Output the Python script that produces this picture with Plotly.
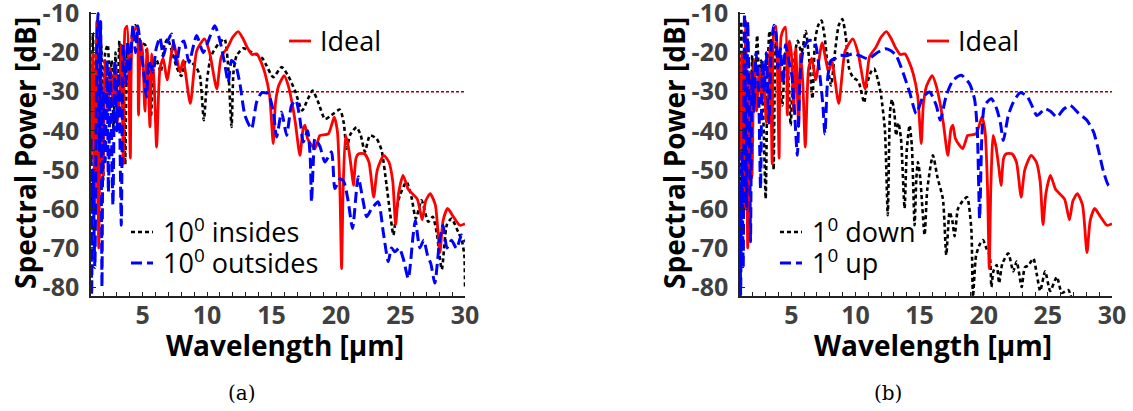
import plotly.graph_objects as go

W, H = 1133, 411

# ---------------- data (wavelength in µm, spectral power in dB) ----------------
ideal_wl = [1.0, 1.15, 1.3, 1.45, 1.6, 1.75, 1.93, 2.1, 2.3, 2.5, 2.7, 2.85, 3.05, 3.22, 3.35,
            3.51, 3.65, 3.8, 3.95, 4.05, 4.2, 4.4, 4.55, 4.68, 4.85, 5.0, 5.18, 5.35, 5.57, 5.72,
            5.9, 6.09, 6.35, 6.6, 6.9, 7.4, 7.9, 8.15, 8.7, 9.2, 9.8, 10.2, 10.75, 11.1, 11.6,
            12.0, 12.42, 12.8, 13.1, 13.5, 13.85, 14.2, 14.5, 14.85, 15.13, 15.3, 15.55, 15.98,
            16.3, 16.6, 16.85, 17.2, 17.45, 17.6, 17.79, 18.1, 18.36, 18.6, 18.75, 19.4, 19.86,
            20.1, 20.3, 20.43, 20.55, 20.74, 20.95, 21.2, 21.35, 21.55, 21.75, 22.2, 22.55, 22.92,
            23.2, 23.7, 24.1, 24.4, 24.62, 24.85, 25.2, 25.6, 26.3, 26.68, 26.95, 27.3, 27.7,
            28.05, 28.3, 28.65, 29.1, 29.6, 30.0]
ideal_db = [-47.6, -20, -60, -12, -70, -25, -52, -22, -35, -24, -33, -23, -38, -31, -18,
            -48.5, -14, -13.2, -30, -47, -16, -14, -13.5, -36, -17, -20, -35, -19, -39, -20.3,
            -28, -44.2, -24, -21.5, -27, -17.5, -25, -22, -33, -19.5, -16.5, -20, -29.3, -21, -18.6,
            -16, -14.6, -16.5, -18.6, -20.5, -20.3, -22.5, -25.4, -31, -43.3, -33, -28.5, -25.9,
            -28.5, -33, -38, -46.3, -39.5, -38.6, -42, -43.7, -44.6, -42.5, -41.2, -40.8, -36.5,
            -40, -55, -75.3, -55, -41.2, -44, -50, -54, -47, -45.9, -45.9, -48, -57,
            -50, -46.3, -48, -53, -64, -56, -51.4, -55, -57.5, -62.8, -58, -56.1, -59,
            -71.2, -63, -59.9, -62, -64.2, -63.8]

inside_wl = [1.0, 1.15, 1.3, 1.45, 1.6, 1.8, 1.95, 2.1, 2.3, 2.45, 2.6, 2.75, 2.9, 3.05, 3.2,
             3.35, 3.5, 3.65, 3.8, 4.0, 4.2, 4.45, 4.6, 4.9, 5.2, 5.45, 5.65, 5.85, 6.1, 6.4,
             6.7, 6.95, 7.3, 7.64, 8.0, 8.4, 8.8, 9.2, 9.45, 9.75, 10.0, 10.3, 10.87, 11.35, 11.6,
             11.9, 12.05, 12.3, 12.81, 13.45, 13.97, 14.3, 14.61, 15.13, 15.78, 16.3, 16.81,
             17.38, 17.8, 18.18, 18.62, 19.14, 19.65, 20.3, 20.6, 20.82, 21.1, 21.59, 21.9, 22.24,
             22.63, 23.14, 23.53, 23.92, 24.15, 24.45, 24.7, 24.95, 25.47, 25.85, 26.19, 26.63,
             27.15, 27.5, 27.8, 28.2, 28.6, 28.96, 29.47, 29.75, 29.95, 30.0]
inside_db = [-58, -15, -45, -22, -50, -18, -52.6, -20, -18, -30, -22, -40, -20, -35, -17,
             -28, -22, -48.6, -20, -30, -15, -13, -15, -17.5, -18, -24, -36.5, -24, -22, -25,
             -18, -16.5, -20, -23.7, -26, -21.6, -22.5, -24, -26, -37.3, -27, -21, -17.8, -16.5, -22,
             -39, -25, -20.7, -18.9, -19.9, -20.7, -21.5, -23.3, -26.3, -23.7, -26, -29.7,
             -34.8, -32, -29.7, -32.7, -37, -36, -34.6, -38, -44.6, -41, -39.1, -41, -45.4,
             -41.2, -42, -45, -54, -60, -66.7, -60, -56.5, -53.1, -57, -62.5, -57.8,
             -63.3, -62, -66, -75.5, -64, -62.5, -65.9, -68, -72, -80]

outside_wl = [1.0, 1.05, 1.15, 1.3, 1.45, 1.55, 1.65, 1.75, 1.85, 1.95, 2.1, 2.25, 2.35, 2.5,
              2.7, 2.85, 3.0, 3.15, 3.35, 3.5, 3.7, 3.85, 4.0, 4.25, 4.45, 4.64, 4.85, 5.05, 5.3,
              5.5, 5.8, 6.05, 6.35, 6.6, 6.86, 7.25, 7.64, 7.9, 8.2, 8.6, 9.19, 9.7, 10.1, 10.6,
              11.0, 11.39, 11.64, 11.9, 12.2, 12.55, 12.94, 13.45, 13.84, 14.23, 14.74, 15.13,
              15.39, 15.78, 16.17, 16.55, 16.89, 17.2, 17.46, 17.8, 18.0, 18.1, 18.25, 18.36,
              18.75, 19.14, 19.65, 19.91, 20.3, 20.6, 20.94, 21.28, 21.72, 22.1, 22.37, 22.75,
              23.27, 23.66, 24.05, 24.3, 24.56, 24.9, 25.21, 25.6, 25.98, 26.15, 26.5, 26.8,
              27.1, 27.35, 27.66, 28.05, 28.3, 28.6, 28.95, 29.34, 29.73, 30.0]
outside_db = [-42, -82, -50, -75, -20, -10, -45, -12, -80, -30, -48, -22, -55.7, -25,
              -59, -22, -40, -25, -64.2, -18, -28, -17, -25, -13.1, -20, -13.1, -19, -24, -31.4,
              -22, -25, -19, -16.1, -21, -17.8, -15.2, -23, -18, -17, -22.5, -15.6, -20, -17, -13.1,
              -17, -23.3, -27.6, -22, -23, -28, -36.1, -39.5, -32.7, -30.3, -30.5, -35,
              -41.6, -35.2, -41.2, -33.5, -32.2, -37, -42.9, -40, -47, -58.2, -47, -42,
              -44, -48, -45.4, -54.8, -52.3, -53, -58, -65, -51.8, -58, -62, -60,
              -58.2, -65.9, -73.5, -70, -71, -70, -72.7, -77.8, -66.7, -63, -70, -68,
              -72, -74, -79, -67.6, -64.2, -70, -68, -70.1, -66.7, -68.5]

down_wl = [1.0, 1.1, 1.2, 1.35, 1.5, 1.65, 1.8, 1.95, 2.1, 2.34, 2.5, 2.65, 2.85, 3.0, 3.15,
           3.3, 3.5, 3.62, 3.78, 4.0, 4.3, 4.55, 4.75, 4.95, 5.2, 5.5, 5.8, 6.12, 6.4, 6.65,
           6.85, 7.1, 7.35, 7.6, 7.85, 8.1, 8.4, 8.7, 8.98, 9.25, 9.5, 9.8, 10.1, 10.3, 10.68,
           10.9, 11.2, 11.45, 11.75, 12.0, 12.3, 12.52, 12.7, 12.85, 13.05, 13.17, 13.35, 13.55,
           13.83, 14.0, 14.22, 14.4, 14.61, 14.75, 14.87, 15.05, 15.39, 15.6, 16.04, 16.4,
           16.82, 17.08, 17.34, 17.55, 17.73, 17.99, 18.35, 18.7, 19.03, 19.16, 19.4, 19.7,
           19.95, 20.2, 20.47, 20.6, 20.75, 21.01, 21.2, 21.45, 21.92, 22.3, 22.57, 22.96,
           23.2, 23.48, 23.87, 24.15, 24.4, 24.79, 25.18, 25.7, 26.09, 26.6, 26.85]
down_db = [-60, -12, -40, -20, -55, -25, -45, -20.7, -30, -15.6, -28, -22, -40, -57.4, -25,
           -14.5, -20, -50, -17.3, -25, -33.5, -20, -25, -38.6, -22, -17, -20, -14.5, -22, -31.8,
           -17, -13, -11.8, -16, -24, -28.4, -20, -13, -11.4, -16, -24, -26.3, -27, -28, -32.8,
           -28, -25, -24.1, -27, -31, -40, -61.6, -35, -32, -36, -41.2, -38, -42,
           -59.9, -45, -38.6, -44, -64.2, -52, -48, -52, -66.7, -55, -46.3, -52,
           -57.5, -71.8, -60.8, -63, -67, -60, -58, -57, -65, -82.5, -72, -69,
           -68, -70, -72, -80, -76, -74.4, -79, -74, -71.4, -76, -73.5, -80,
           -75, -74.5, -72.7, -77, -81, -76, -81, -77.4, -81.5, -80.8, -83]

up_wl = [1.0, 1.05, 1.15, 1.25, 1.35, 1.5, 1.6, 1.75, 1.82, 1.95, 2.1, 2.25, 2.45, 2.6, 2.75,
         2.9, 3.05, 3.25, 3.45, 3.64, 3.8, 3.95, 4.15, 4.35, 4.55, 4.8, 5.05, 5.25, 5.47, 5.7,
         5.95, 6.3, 6.64, 6.9, 7.2, 7.45, 7.62, 7.85, 8.1, 8.46, 8.8, 9.29, 9.81, 10.34, 10.99,
         11.74, 12.39, 12.8, 13.17, 13.7, 14.22, 14.74, 15.26, 15.78, 16.3, 16.61, 17.08,
         17.6, 18.25, 18.9, 19.29, 19.5, 19.68, 19.85, 20.07, 20.6, 21.01, 21.3, 21.53, 21.92,
         22.31, 22.83, 23.35, 23.75, 24.14, 24.79, 25.2, 25.7, 26.22, 26.74, 27.39, 28.04,
         28.56, 28.95, 29.34, 29.73, 30.0]
up_db = [-55, -82, -45, -75, -10, -60, -12, -40, -68.4, -25, -35, -20, -30, -54.8, -22,
         -30, -20, -38, -18, -13, -15, -24, -19, -28, -18, -22, -26, -35, -46.3, -25,
         -19, -17, -16.9, -18, -25, -33, -40.8, -26, -22, -21.4, -20.7, -20.8, -20.3, -20.8, -21.6,
         -19.9, -19.0, -19.6, -20.7, -25, -30.1, -35.6, -31.4, -30.1, -33.5, -37.3, -31,
         -27.1, -25.8, -28, -32, -40, -62.5, -42, -33.5, -31.8, -34.4, -38, -42.5, -36,
         -32.7, -30.3, -31, -33.5, -36.1, -34.4, -35, -36.5, -34.5, -33.5, -35.5, -37.3,
         -40.3, -45, -50.5, -54, -54.4]

threshold_wl = [1, 30]
threshold_db = [-30, -30]

x_ticks = [5, 10, 15, 20, 25, 30]
y_ticks = [-80, -70, -60, -50, -40, -30, -20, -10]
y_tick_text = ["-80", "-70", "-60", "-50", "-40", "-30", "-20", "-10"]

# ---------------- styling ----------------
FONT = "Open Sans"
RED, BLACK, BLUE, MAROON = "#ff0000", "#000000", "#0000ff", "#a00000"
STYLE = {
    "black": dict(color=BLACK, width=2.6, dash="4px,3px"),
    "red": dict(color=RED, width=2.8),
    "blue": dict(color=BLUE, width=3, dash="11px,5px"),
}


def px_x(p):
    return p / W


def px_y(p):
    return 1 - p / H


fig = go.Figure()


def add_curve(wl, db, style, xa, ya):
    fig.add_trace(go.Scatter(x=wl, y=db, mode="lines", xaxis=xa, yaxis=ya,
                             line=dict(shape="spline", smoothing=0.6, **STYLE[style]),
                             showlegend=False, hoverinfo="skip"))


def add_threshold(xa, ya):
    fig.add_trace(go.Scatter(x=threshold_wl, y=threshold_db, mode="lines", xaxis=xa, yaxis=ya,
                             line=dict(color=MAROON, width=1.6, dash="3px,2px"),
                             showlegend=False, hoverinfo="skip"))


# panel (a)
add_threshold("x", "y")
add_curve(inside_wl, inside_db, "black", "x", "y")
add_curve(ideal_wl, ideal_db, "red", "x", "y")
add_curve(outside_wl, outside_db, "blue", "x", "y")
# panel (b)
add_threshold("x2", "y2")
add_curve(down_wl, down_db, "black", "x2", "y2")
add_curve(ideal_wl, ideal_db, "red", "x2", "y2")
add_curve(up_wl, up_db, "blue", "x2", "y2")

plot_top, plot_bot = 12, 296
y_dom = [px_y(plot_bot), px_y(plot_top)]
panels = {"a": (91, 465), "b": (740, 1112)}

tickfont = dict(family=FONT, size=25, color="#404040", weight="bold")
xaxis_common = dict(range=[1, 30], tickvals=x_ticks, ticks="inside", ticklen=4, tickwidth=1.2,
                    tickcolor="#222", showline=True, linecolor="#222", linewidth=1.5,
                    showgrid=False, zeroline=False, mirror=False, tickfont=tickfont,
                    ticklabelstandoff=-4, ticklabeloverflow="allow", automargin=False,
                    minor=dict(dtick=1, tick0=0, ticks="inside", ticklen=4, tickcolor="#222"))
yaxis_common = dict(range=[-82.3, -9.6], tickvals=y_ticks, ticktext=y_tick_text, ticks="inside",
                    ticklen=5, tickwidth=1.2, tickcolor="#222", showline=True, linecolor="#222",
                    linewidth=1.5, showgrid=False, zeroline=False, mirror=False,
                    tickfont=tickfont, ticklabelstandoff=5, domain=y_dom,
                    ticklabeloverflow="allow", automargin=False,
                    minor=dict(dtick=5, tick0=0, ticks="inside", ticklen=4, tickcolor="#222"))

fig.update_layout(
    width=W, height=H, margin=dict(l=0, r=0, t=0, b=0, autoexpand=False),
    paper_bgcolor="white", plot_bgcolor="white",
    xaxis=dict(domain=[px_x(panels["a"][0]), px_x(panels["a"][1])], anchor="y", **xaxis_common),
    yaxis=dict(anchor="x", **yaxis_common),
    xaxis2=dict(domain=[px_x(panels["b"][0]), px_x(panels["b"][1])], anchor="y2", **xaxis_common),
    yaxis2=dict(anchor="x2", **yaxis_common),
)

title_font = dict(family=FONT, size=28, color="black", weight="bold")
legend_font = dict(family=FONT, size=27, color="black")
caption_font = dict(family="DejaVu Serif", size=20, color="black")

annotations = []
shapes = []


def text(x, y, s, font, xanchor="center", **kw):
    annotations.append(dict(x=px_x(x), y=px_y(y), xref="paper", yref="paper", text=s,
                            showarrow=False, font=font, xanchor=xanchor, yanchor="middle", **kw))


def legend_line(x0, x1, y, style):
    st = STYLE[style]
    shapes.append(dict(type="line", xref="paper", yref="paper",
                       x0=px_x(x0), x1=px_x(x1), y0=px_y(y), y1=px_y(y),
                       line=dict(color=st["color"], width=st["width"], dash=st.get("dash", "solid"))))


for key, (left, right), cap, entries in [
        ("a", panels["a"], "(a)", [("10<sup>0</sup> insides", "black"), ("10<sup>0</sup> outsides", "blue")]),
        ("b", panels["b"], "(b)", [("1<sup>0</sup> down", "black"), ("1<sup>0</sup> up", "blue")])]:
    # axis titles
    text(left - 66, 153, "Spectral Power [dB]", title_font, textangle=-90)
    text((left + right) / 2 + 7, 345, "Wavelength [µm]", title_font)
    text(left + 151 if key == "a" else left + 148, 393, cap, caption_font)
    # legends
    lx = left + 40
    legend_line(lx, lx + 22, 232, entries[0][1])
    text(lx + 30, 230, entries[0][0], legend_font, xanchor="left")
    legend_line(lx, lx + 22, 263, entries[1][1])
    text(lx + 30, 261, entries[1][0], legend_font, xanchor="left")
    ix = left + 198 if key == "a" else left + 187
    legend_line(ix, ix + 22, 41, "red")
    text(ix + 29, 41, "Ideal", legend_font, xanchor="left")

fig.update_layout(annotations=annotations, shapes=shapes)
fig.write_html("out.html")
